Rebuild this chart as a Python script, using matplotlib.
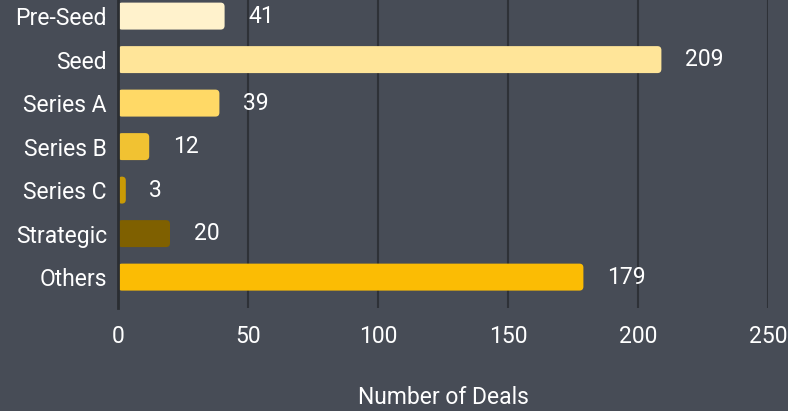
import matplotlib
matplotlib.use("Agg")
import matplotlib.pyplot as plt
from matplotlib.patches import FancyBboxPatch

plt.rcParams["font.family"] = ["Roboto", "DejaVu Sans"]

stages = ["Pre-Seed", "Seed", "Series A", "Series B", "Series C", "Strategic", "Others"]
deals = [41, 209, 39, 12, 3, 20, 179]
colors = ["#fff2cc", "#ffe599", "#ffd966", "#f1c232", "#c99a06", "#7f6000", "#fbbc04"]
xticks = [0, 50, 100, 150, 200, 250]

BG = "#474c56"
GRID = "#2e3137"
FS = 16.5

fig = plt.figure(figsize=(7.88, 4.11), dpi=100, facecolor=BG)
ax = fig.add_axes([118 / 788, 1 - 308 / 411, 650 / 788, 308 / 411], facecolor=BG)

ypos = list(range(len(stages)))
bars = ax.barh(ypos, deals, height=0.62, color=colors, zorder=3)

# swap plain rectangles for ones with rounded corners
px_x = 650 / 250          # pixels per deal
px_y = 43.5               # pixels per category
r = 4 / px_x
for b, c in zip(bars, colors):
    x0, y0 = b.get_x(), b.get_y()
    w, h = b.get_width(), b.get_height()
    b.set_visible(False)
    p = FancyBboxPatch((x0, y0), w, h,
                       boxstyle=f"round,pad=0,rounding_size={min(r, w / 2):.3f}",
                       mutation_aspect=px_x / px_y, fc=c, ec="none", zorder=3)
    ax.add_patch(p)

for y, v in zip(ypos, deals):
    ax.annotate(str(v), (v, y), xytext=(17, 0), textcoords="offset points",
                ha="left", va="center", color="white", fontsize=FS)

ax.set_xlim(0, 250)
ax.set_ylim(6.71, -0.37)
ax.set_xticks(xticks)
ax.set_yticks(ypos)
ax.set_yticklabels(stages)
ax.tick_params(axis="both", length=0, colors="white", labelsize=FS)
ax.tick_params(axis="x", pad=12)
ax.tick_params(axis="y", pad=8)
ax.grid(axis="x", color=GRID, lw=1.5, zorder=0)
for s in ["top", "right", "bottom"]:
    ax.spines[s].set_visible(False)
ax.spines["left"].set_color("#2a2d32")
ax.spines["left"].set_linewidth(2)
ax.spines["left"].set_zorder(4)

ax.set_xlabel("Number of Deals", color="white", fontsize=FS, va="center")
ax.xaxis.set_label_coords(0.5, (308 - 397) / 308)

fig.savefig("out.png", dpi=100, facecolor=BG)
